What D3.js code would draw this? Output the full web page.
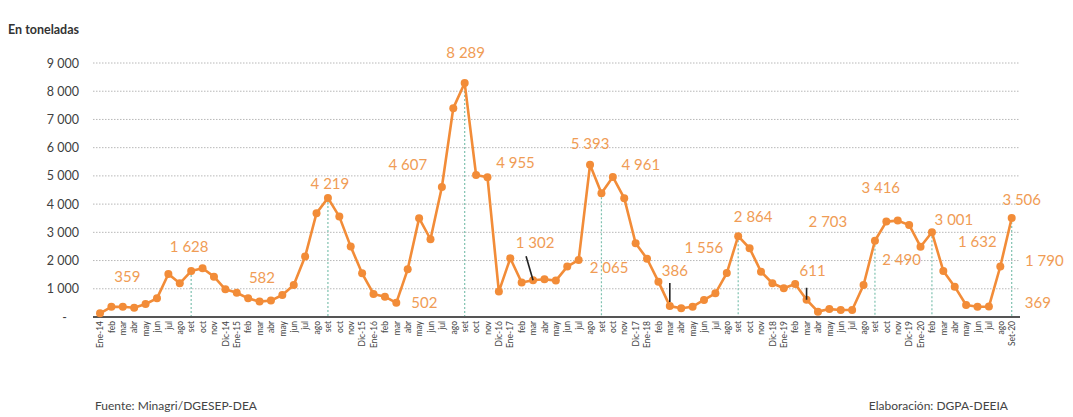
<!DOCTYPE html>
<html><head><meta charset="utf-8">
<script src="https://cdn.jsdelivr.net/npm/d3@7"></script>
<style>
html,body{margin:0;padding:0;background:#fff;}
svg{display:block;font-family:Lato,"Open Sans",sans-serif;}
</style></head>
<body><svg id="c" width="1073" height="417"></svg>
<script>
// ---- data ----
const months = [
 "Ene-14","feb","mar","abr","may","jun","jul","ago","set","oct","nov","Dic-14",
 "Ene-15","feb","mar","abr","may","jun","jul","ago","set","oct","nov","Dic-15",
 "Ene-16","feb","mar","abr","may","jun","jul","ago","set","oct","nov","Dic-16",
 "Ene-17","feb","mar","abr","may","jun","jul","ago","set","oct","nov","Dic-17",
 "Ene-18","feb","mar","abr","may","jun","jul","ago","set","oct","nov","Dic-18",
 "Ene-19","feb","mar","abr","may","jun","jul","ago","set","oct","nov","Dic-19",
 "Ene-20","feb","mar","abr","may","jun","jul","ago","Set-20"];
const values = [
 130, 360, 365, 330, 460, 660, 1525, 1195, 1628, 1725, 1430, 980,
 860, 660, 545, 582, 780, 1135, 2140, 3680, 4219, 3557, 2494, 1550,
 815, 720, 502, 1690, 3500, 2755, 4607, 7400, 8289, 5035, 4955, 900,
 2080, 1220, 1302, 1335, 1290, 1785, 2020, 5393, 4387, 4961, 4210, 2613,
 2065, 1252, 386, 308, 365, 603, 840, 1556, 2864, 2436, 1606, 1195,
 1017, 1170, 611, 190, 280, 248, 248, 1135, 2703, 3380, 3416, 3262,
 2490, 3001, 1632, 1075, 425, 365, 369, 1790, 3506];
const yTicks = [0,1000,2000,3000,4000,5000,6000,7000,8000,9000];
const yTickLabels = ["-","1 000","2 000","3 000","4 000","5 000","6 000","7 000","8 000","9 000"];
const dropLineMonths = [8, 20, 32, 44, 56, 68, 73, 80];
const labelTexts = ["359","1 628","582","4 219","4 607","502","8 289","4 955","1 302","5 393","2 065","4 961","386","1 556","2 864","2 703","611","3 416","2 490","3 001","1 632","3 506","1 790","369"];
const labelMonths = [1, 8, 15, 20, 30, 26, 32, 34, 38, 43, 48, 45, 50, 55, 56, 68, 62, 70, 72, 73, 74, 80, 79, 78];
// label offsets (pixels) relative to their point
const labelDx = [16, -2, -9, 2, -34, 28, 1, 28, 2, 0, -38, 28, 5, -23, 15, -47, 6, -17, -19, 22, 34, 10, 44, 49];
const labelDy = [-25, -19, -18, -9, -17, 5, -25, -9, -32, -16, 14, -7, -30, -20, -14, -14, -24, -28, 18, -7, -24, -13, 0, 1];
const leaders = [[38, -7, -24, 0, 0], [50, 0, -23, 0, -4], [62, 0, -12, 0, 0]];

// ---- chart ----
const svg = d3.select("#c");
const x = d3.scalePoint().domain(d3.range(months.length)).range([100, 1011.7]);
const y = d3.scaleLinear().domain([0, 9000]).range([317, 63]);
const orange = "#F28C38", labOrange = "#F09C55";

svg.append("text").attr("x", 8).attr("y", 34).attr("font-size", 12.5).attr("font-weight", "bold")
  .attr("fill", "#333").text("En toneladas");

// gridlines
svg.append("g").selectAll("line").data(yTicks.slice(1)).join("line")
  .attr("x1", 93).attr("x2", 1020).attr("y1", d => y(d)).attr("y2", d => y(d))
  .attr("stroke", "#b8b8b8").attr("stroke-width", 1).attr("stroke-dasharray", "1.5,1.5");

// y labels
const yAxis = d3.axisLeft(y).tickValues(yTicks).tickSize(0).tickPadding(0)
  .tickFormat((d, i) => yTickLabels[i]);
const gy = svg.append("g").attr("transform", "translate(79,0)").call(yAxis);
gy.select(".domain").remove();
gy.selectAll("text").attr("font-size", 12.5).attr("fill", "#404040").attr("font-family", "Lato,'Open Sans',sans-serif")
  .attr("text-anchor", "end");
gy.selectAll(".tick").filter(d => d === 0).select("text").attr("dx", -12);

// drop lines
svg.append("g").selectAll("line").data(dropLineMonths).join("line")
  .attr("x1", d => x(d)).attr("x2", d => x(d)).attr("y1", d => y(values[d])).attr("y2", y(0))
  .attr("stroke", "#7fc2b0").attr("stroke-width", 1.2).attr("stroke-dasharray", "2,2");

// x axis
const xAxis = d3.axisBottom(x).tickSize(0).tickPadding(0).tickFormat(i => months[i]);
const gx = svg.append("g").attr("transform", `translate(0,${y(0)})`).call(xAxis);
gx.select(".domain").attr("stroke", "#555").attr("stroke-width", 2)
  .attr("d", "M93,0H1020");
gx.selectAll("text").attr("font-size", 8.5).attr("fill", "#444").attr("font-family", "Lato,'Open Sans',sans-serif")
  .attr("transform", "rotate(-90)").attr("text-anchor", "end").attr("dy", "0.32em").attr("x", -4).attr("y", 0);

// line + points
const line = d3.line().x((d, i) => x(i)).y(d => y(d));
svg.append("path").datum(values).attr("d", line).attr("fill", "none")
  .attr("stroke", orange).attr("stroke-width", 2.6).attr("stroke-linejoin", "round");
svg.append("g").selectAll("circle").data(values).join("circle")
  .attr("cx", (d, i) => x(i)).attr("cy", d => y(d)).attr("r", 4).attr("fill", orange);

// leader lines
svg.append("g").selectAll("line").data(leaders).join("line")
  .attr("x1", d => x(d[0]) + d[1]).attr("y1", d => y(values[d[0]]) + d[2])
  .attr("x2", d => x(d[0]) + d[3]).attr("y2", d => y(values[d[0]]) + d[4])
  .attr("stroke", "#222").attr("stroke-width", 1.6);

// data labels
svg.append("g").selectAll("text").data(labelTexts).join("text")
  .attr("x", (d, i) => x(labelMonths[i]) + labelDx[i])
  .attr("y", (d, i) => y(values[labelMonths[i]]) + labelDy[i])
  .attr("text-anchor", "middle").attr("font-size", 15).attr("fill", labOrange)
  .text(d => d);

// footer
svg.append("text").attr("x", 95).attr("y", 410).attr("font-size", 12).attr("fill", "#444").text("Fuente: Minagri/DGESEP-DEA");
svg.append("text").attr("x", 1008).attr("y", 410).attr("text-anchor", "end").attr("font-size", 12).attr("fill", "#444").text("Elaboración: DGPA-DEEIA");
</script></body></html>
